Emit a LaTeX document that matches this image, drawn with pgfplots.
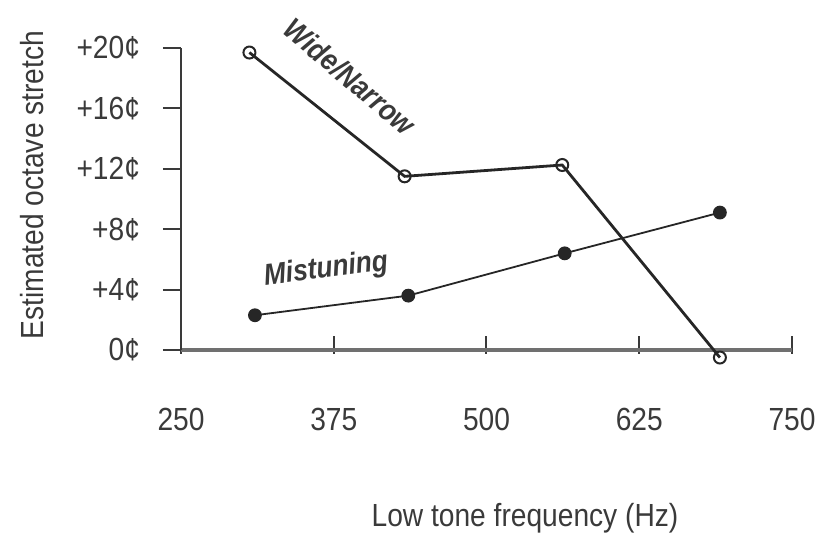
\documentclass[border=0pt]{standalone}
\usepackage{pgfplots}
\pgfplotsset{compat=1.18}
\usepackage{fontspec}
\setmainfont[FakeStretch=0.88]{Liberation Sans}
\definecolor{ink}{HTML}{3A3A3A}
\definecolor{axisgray}{HTML}{707070}
\begin{document}
\begin{tikzpicture}[x=1pt,y=1pt]
\useasboundingbox (0,0) rectangle (410.5,266.5);
\begin{axis}[
  at={(90.5pt,91.5pt)}, anchor=south west,
  scale only axis, width=305.5pt, height=151pt,
  xmin=250, xmax=750, ymin=0, ymax=20,
  axis lines=left, axis line style={-},
  x axis line style={line width=1.8pt, axisgray},
  y axis line style={line width=1pt, ink},
  xtick={250,375,500,625,750},
  ytick={0,4,8,12,16,20},
  yticklabels={0¢,+4¢,+8¢,+12¢,+16¢,+20¢},
  tick align=center, major tick length=9pt,
  ytick style={xshift=-4.5pt, line width=1pt, ink},
  xtick style={yshift=2.5pt, line width=1pt, ink},
  /pgf/number format/assume math mode=true,
  /pgf/number format/1000 sep={},
  tick label style={font=\fontsize{16}{18}\selectfont, text=ink},
  xticklabel style={anchor=center, yshift=-30pt},
  yticklabel style={anchor=east, xshift=-12.5pt},
  label style={font=\fontsize{16}{18}\selectfont, text=ink},
  xlabel={Low tone frequency (Hz)},
  ylabel={Estimated octave stretch},
  xlabel style={at={(axis description cs:0.563,-0.556)}, anchor=center},
  ylabel style={at={(axis description cs:-0.244,0.546)}, anchor=center},
  clip=false,
]
\addplot[color=black!85, line width=1.4pt, mark=o, mark size=3pt, mark options={line width=1pt, fill=white}]
  coordinates {(306,19.7) (433,11.5) (562,12.25) (691,-0.5)};
\addplot[color=black!85, line width=0.9pt, mark=*, mark size=3pt]
  coordinates {(310.5,2.3) (436,3.6) (564,6.4) (691,9.1)};
\node[rotate=-40, text=ink, font=\fontsize{15}{17}\selectfont\itshape\bfseries] at (axis cs:388,18.1) {Wide/Narrow};
\node[rotate=7, text=ink, font=\fontsize{15}{17}\selectfont\itshape\bfseries] at (axis cs:368.7,5.3) {Mistuning};
\end{axis}
\end{tikzpicture}
\end{document}
